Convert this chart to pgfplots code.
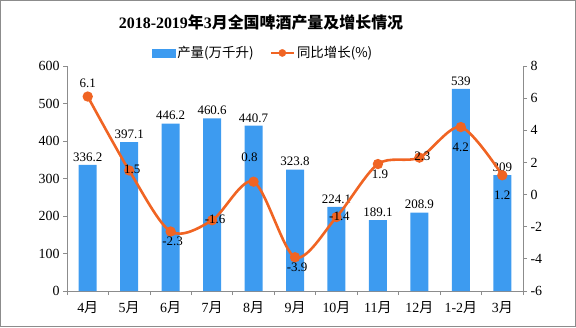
\documentclass[border=0pt]{standalone}
\usepackage{fontspec}
\setmainfont{Liberation Serif}
\newfontfamily\cjk{Noto Sans CJK SC}
\newcommand{\cj}[1]{{\cjk #1}}
\usepackage{pgfplots}
\pgfplotsset{compat=1.18}
\definecolor{barblue}{RGB}{61,155,240}
\definecolor{lineor}{RGB}{240,100,35}
\definecolor{axgray}{RGB}{140,140,140}

\pgfplotstableread{
x val
0 336.2
1 397.1
2 446.2
3 460.6
4 440.7
5 323.8
6 224.1
7 189.1
8 208.9
9 539
10 309
}\prodtable

\pgfplotstableread{
x g
0 6.1
1 1.5
2 -2.3
3 -1.6
4 0.8
5 -3.9
6 -1.4
7 1.9
8 2.3
9 4.2
10 1.2
}\growtable

\pgfplotsset{glabel/.style={draw=none, mark=none, forget plot,
  nodes near coords={\pgfmathprintnumber[fixed,precision=1,assume math mode=true]{\pgfplotspointmeta}},
  nodes near coords style={font=\fontsize{13}{13}\selectfont, anchor=center, black}}}

\begin{document}
\begin{tikzpicture}[x=1bp,y=1bp]
\draw[axgray, line width=1bp] (0.5,0.5) rectangle (575.5,326.5);
\node[font=\fontsize{16}{16}\selectfont\bfseries] at (261,305) {2018-2019\cj{年}3\cj{月全国啤酒产量及增长情况}};

\begin{axis}[
  at={(67bp,36bp)}, anchor=south west, scale only axis,
  width=456bp, height=225bp,
  xmin=-0.5, xmax=10.5, ymin=0, ymax=600,
  axis x line*=bottom, axis y line*=left,
  axis line style={axgray, line width=0.8bp, -},
  xtick={0,...,10},
  xticklabels={4\cj{月},5\cj{月},6\cj{月},7\cj{月},8\cj{月},9\cj{月},10\cj{月},11\cj{月},12\cj{月},1-2\cj{月},3\cj{月}},
  minor xtick={-0.5,0.5,...,10.5},
  major x tick style={draw=none},
  tick align=outside,
  tick style={axgray, line width=0.8bp},
  major tick length=4bp, minor tick length=4bp,
  ytick={0,100,...,600},
  /pgf/number format/assume math mode=true,
  ticklabel style={font=\fontsize{14}{14}\selectfont},
  xticklabel style={yshift=-3bp},
  ybar, bar width=18bp,
  nodes near coords={\pgfmathprintnumber[fixed,precision=1,assume math mode=true]{\pgfplotspointmeta}},
  nodes near coords style={font=\fontsize{13}{13}\selectfont, anchor=south, black},
]
\addplot[fill=barblue, draw=none] table[x=x, y=val] {\prodtable};
\end{axis}

\begin{axis}[
  at={(67bp,36bp)}, anchor=south west, scale only axis,
  width=456bp, height=225bp,
  xmin=-0.5, xmax=10.5, ymin=-6, ymax=8,
  axis y line*=right, axis x line=none,
  axis line style={axgray, line width=0.8bp, -},
  ytick={-6,-4,...,8},
  tick align=outside,
  tick style={axgray, line width=0.8bp},
  major tick length=4bp,
  /pgf/number format/assume math mode=true,
  ticklabel style={font=\fontsize{14}{14}\selectfont},
  legend style={at={(0.43,1.058)}, anchor=center, draw=none, fill=none,
    legend columns=2, font=\fontsize{13.5}{13.5}\selectfont,
    /tikz/every even column/.append style={column sep=14bp}},
  clip=false,
]
\addlegendimage{legend image code/.code={\fill[barblue] (0bp,-4bp) rectangle (23bp,4bp);}}
\addlegendentry{\cj{产量(万千升)}}
\addlegendimage{legend image code/.code={\draw[lineor, line width=2.4bp] (0bp,0bp) -- (23bp,0bp); \fill[lineor] (11.5bp,0bp) circle (3.6bp);}}
\addlegendentry{\cj{同比增长(\%)}}
\addplot[lineor, line width=2.6bp, smooth, mark=*, mark size=3.8bp,
  mark options={fill=lineor, draw=lineor}, forget plot] table[x=x, y=g] {\growtable};
% labels above
\addplot[glabel, nodes near coords style={yshift=13bp}] coordinates {(0,6.1)};
\addplot[glabel, nodes near coords style={yshift=24bp, xshift=-4bp}] coordinates {(4,0.8)};
% labels on the point
\addplot[glabel, nodes near coords style={xshift=3bp, yshift=1bp}] coordinates {(1,1.5) (3,-1.6) (6,-1.4) (8,2.3)};
% labels below
\addplot[glabel, nodes near coords style={yshift=-10bp, xshift=2bp}] coordinates {(2,-2.3) (5,-3.9) (7,1.9)};
\addplot[glabel, nodes near coords style={yshift=-20bp}] coordinates {(9,4.2) (10,1.2)};
\end{axis}
\end{tikzpicture}
\end{document}
